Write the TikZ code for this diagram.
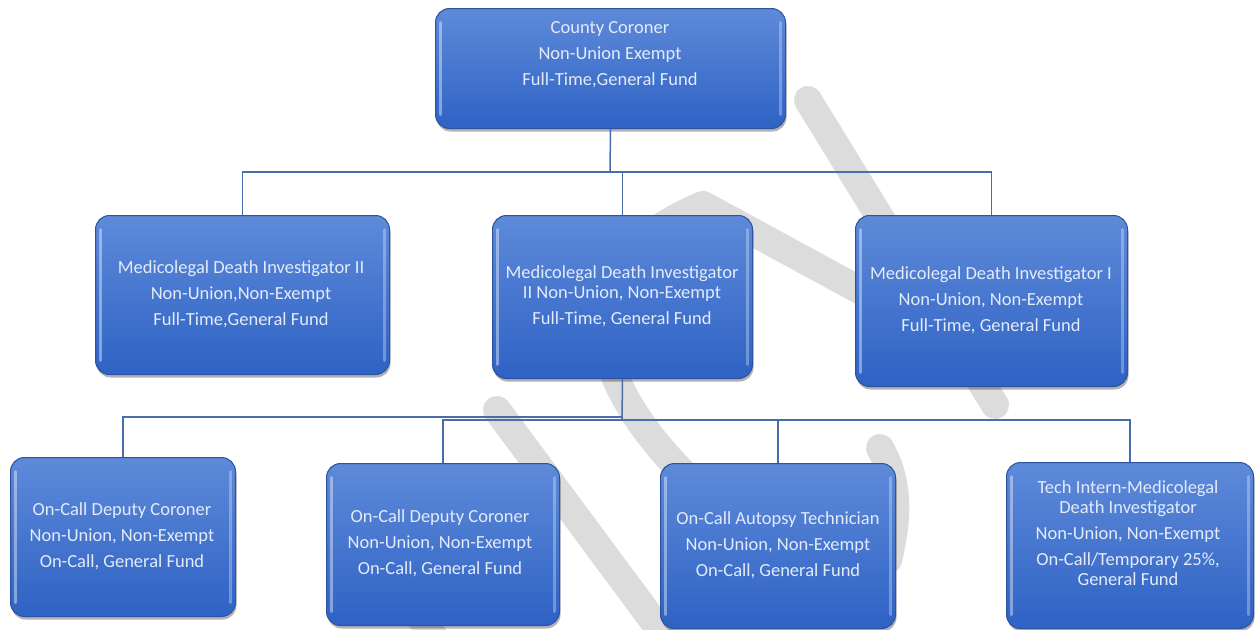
\documentclass[tikz,border=0pt]{standalone}
\usepackage{fontspec}
\setmainfont{Carlito}
\usetikzlibrary{shadows}
\definecolor{boxtop}{RGB}{94,138,217}
\definecolor{boxbot}{RGB}{46,98,196}
\definecolor{boxedge}{RGB}{44,82,160}
\definecolor{txtc}{RGB}{228,235,248}
\definecolor{connc}{RGB}{74,108,170}
\definecolor{wmc}{RGB}{220,220,220}
\tikzset{
  orgbox/.style={draw=boxedge, line width=1pt, rounded corners=14pt,
    top color=boxtop, bottom color=boxbot, anchor=north west, inner sep=0pt,
    drop shadow={shadow xshift=1pt, shadow yshift=-3pt, opacity=0.3, fill=black},
    path picture={
      \draw[white, opacity=0.4, line width=3pt, line cap=round]
        ([xshift=5pt,yshift=-14pt]path picture bounding box.north west) --
        ([xshift=5pt,yshift=14pt]path picture bounding box.south west);
      \draw[white, opacity=0.3, line width=3pt, line cap=round]
        ([xshift=-5pt,yshift=-14pt]path picture bounding box.north east) --
        ([xshift=-5pt,yshift=14pt]path picture bounding box.south east);
    }},
  orgtext/.style={align=center, text=txtc, inner sep=0pt, font=\fontsize{18.5}{20}\selectfont},
  conn/.style={draw=connc, line width=1.5pt},
  wm/.style={draw=wmc, line width=28pt, line cap=round, line join=round}
}
\begin{document}
\begin{tikzpicture}[x=1pt,y=-1pt]
\fill[white] (0,0) rectangle (1257,629);
\useasboundingbox (0,0) rectangle (1257,629);
% watermark
\draw[wm] (808,100) -- (995,405);
\draw[wm] (900,312) -- (703,205) .. controls (565,262) and (580,372) .. (690,480);
\draw[wm] (497,410) -- (660,630);
\draw[wm] (378,560) -- (448,656);
\draw[wm] (880,448) .. controls (897,478) and (900,510) .. (888,560);
% connectors coordinates
\coordinate (j0) at (610,172);
\coordinate (j1) at (622,417);
\coordinate (j2) at (622,420);
% boxes
\node[orgbox, minimum width=350pt, minimum height=120pt] (cc) at (435,8) {};
\node[orgbox, minimum width=294pt, minimum height=159pt] (mdia) at (95,215) {};
\node[orgbox, minimum width=260pt, minimum height=163pt] (mdib) at (492,215) {};
\node[orgbox, minimum width=272pt, minimum height=171pt] (mdic) at (855,215) {};
\node[orgbox, minimum width=225pt, minimum height=159pt] (oca) at (10,457) {};
\node[orgbox, minimum width=233pt, minimum height=162pt] (ocb) at (326,463) {};
\node[orgbox, minimum width=235pt, minimum height=165pt] (oat) at (660,463) {};
\node[orgbox, minimum width=247pt, minimum height=166pt] (ti) at (1006,462) {};
% connectors
\draw[conn] (cc.south) -- (j0);
\draw[conn] (mdia.north) |- (mdic.north |- j0) -- (mdic.north);
\draw[conn] (mdib.north) -- (mdib.north |- j0);
\draw[conn] (mdib.south) -- (j2);
\draw[conn] (oca.north) |- (j1);
\draw[conn] (ocb.north) |- (ti.north |- j2) -- (ti.north);
\draw[conn] (oat.north) -- (oat.north |- j2);
% texts
\node[orgtext] (cct) at (610,55) {County Coroner\\[6pt]Non-Union Exempt\\[6pt]Full-Time,General Fund};
\node[orgtext] (mdiat) at (241,294) {Medicolegal Death Investigator II\\[6pt]Non-Union,Non-Exempt\\[6pt]Full-Time,General Fund};
\node[orgtext] (mdibt) at (622,296) {Medicolegal Death Investigator\\II Non-Union, Non-Exempt\\[6pt]Full-Time, General Fund};
\node[orgtext] (mdict) at (991,300) {Medicolegal Death Investigator I\\[6pt]Non-Union, Non-Exempt\\[6pt]Full-Time, General Fund};
\node[orgtext] (ocat) at (122,536) {On-Call Deputy Coroner\\[6pt]Non-Union, Non-Exempt\\[6pt]On-Call, General Fund};
\node[orgtext] (ocbt) at (440,543) {On-Call Deputy Coroner\\[6pt]Non-Union, Non-Exempt\\[6pt]On-Call, General Fund};
\node[orgtext] (oatt) at (778,545) {On-Call Autopsy Technician\\[6pt]Non-Union, Non-Exempt\\[6pt]On-Call, General Fund};
\node[orgtext] (tit) at (1128,533) {Tech Intern-Medicolegal\\Death Investigator\\[6pt]Non-Union, Non-Exempt\\[6pt]On-Call/Temporary 25\%,\\General Fund};
\end{tikzpicture}
\end{document}
